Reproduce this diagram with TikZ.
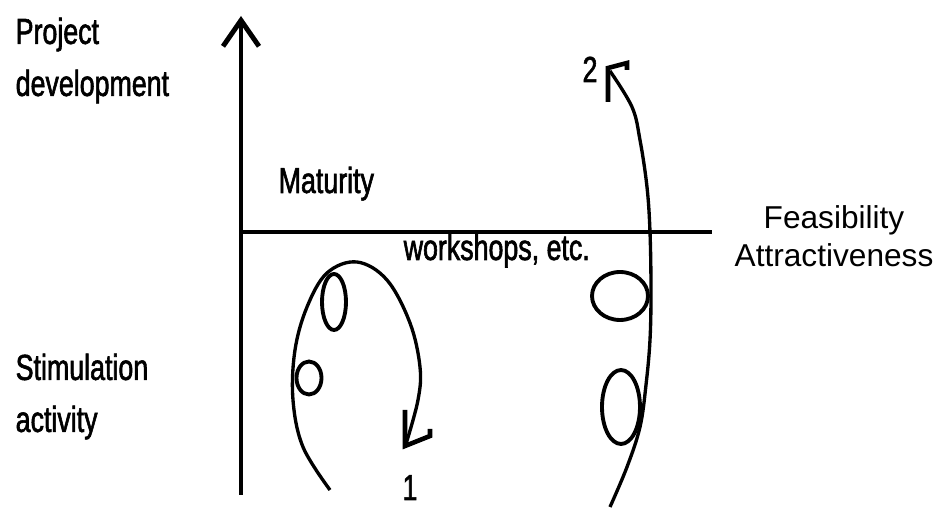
\documentclass[tikz,border=0pt]{standalone}
\usepackage{fontspec}
\setmainfont{Liberation Sans}
\newfontfamily\narrowfont[FakeStretch=0.74, FakeBold=1.6]{Liberation Sans}
\usetikzlibrary{arrows.meta}
\tikzset{
  lbl/.style={font=\narrowfont\fontsize{10.3pt}{14.8pt}\selectfont, inner sep=0pt, align=left},
  axislbl/.style={font=\fontsize{9pt}{10.8pt}\selectfont, inner sep=0pt, align=center},
  axis/.style={draw=black, line width=0.95pt},
  loop/.style={draw=black, line width=0.95pt},
  blob/.style={draw=black, line width=1.1pt},
  barb/.style={draw=black, line width=1.3pt, line join=miter},
}

\begin{document}
\begin{tikzpicture}
\useasboundingbox[fill=white] (0,0) rectangle (9.46,5.08);

% axes
\draw[axis, -{Straight Barb[length=2.6mm, width=3.6mm, line width=1.4pt]}] (2.41,0.13) -- (2.41,4.92);
\draw[axis] (2.41,2.76) -- (7.12,2.76);

% labels
\node[lbl, anchor=north west] (dev) at (0.15,4.91) {Project\\development};
\node[lbl, anchor=north west] (stim) at (0.15,1.55) {Stimulation\\activity};
\node[lbl, anchor=base west] (mat) at (2.78,3.15) {Maturity};
\node[lbl, anchor=base west] (work) at (4.03,2.48) {workshops, etc.};
\node[axislbl, anchor=north] (feas) at (8.34,3.03) {Feasibility\\Attractiveness};
\node[lbl, anchor=base] (one) at (4.10,0.08) {1};
\node[lbl, anchor=base] (two) at (5.90,4.26) {2};

% loop 1
\draw[loop] plot[smooth, tension=0.6] coordinates {(3.30,0.18) (3.03,0.61) (2.93,1.08) (2.95,1.58) (3.07,2.01)
  (3.27,2.35) (3.57,2.46) (3.87,2.28) (4.10,1.85) (4.20,1.41) (4.18,1.08) (4.06,0.64)};
\draw[barb] (4.05,0.98) -- (4.05,0.62) -- (4.30,0.72) -- (4.30,0.79);
\draw[blob] (3.34,2.06) ellipse [x radius=0.12, y radius=0.28];
\draw[blob] (3.09,1.30) ellipse [x radius=0.125, y radius=0.165];

% loop 2
\draw[loop] plot[smooth, tension=0.6] coordinates {(6.10,0.01) (6.27,0.41) (6.40,0.81) (6.46,1.23) (6.50,1.68)
  (6.51,2.18) (6.50,2.76) (6.47,3.21) (6.40,3.68) (6.32,4.01) (6.10,4.37)};
\draw[barb] (6.08,4.06) -- (6.08,4.40) -- (6.27,4.45) -- (6.27,4.38);
\draw[blob] (6.20,2.12) ellipse [x radius=0.28, y radius=0.24];
\draw[blob] (6.21,1.01) ellipse [x radius=0.19, y radius=0.37];

\end{tikzpicture}
\end{document}
